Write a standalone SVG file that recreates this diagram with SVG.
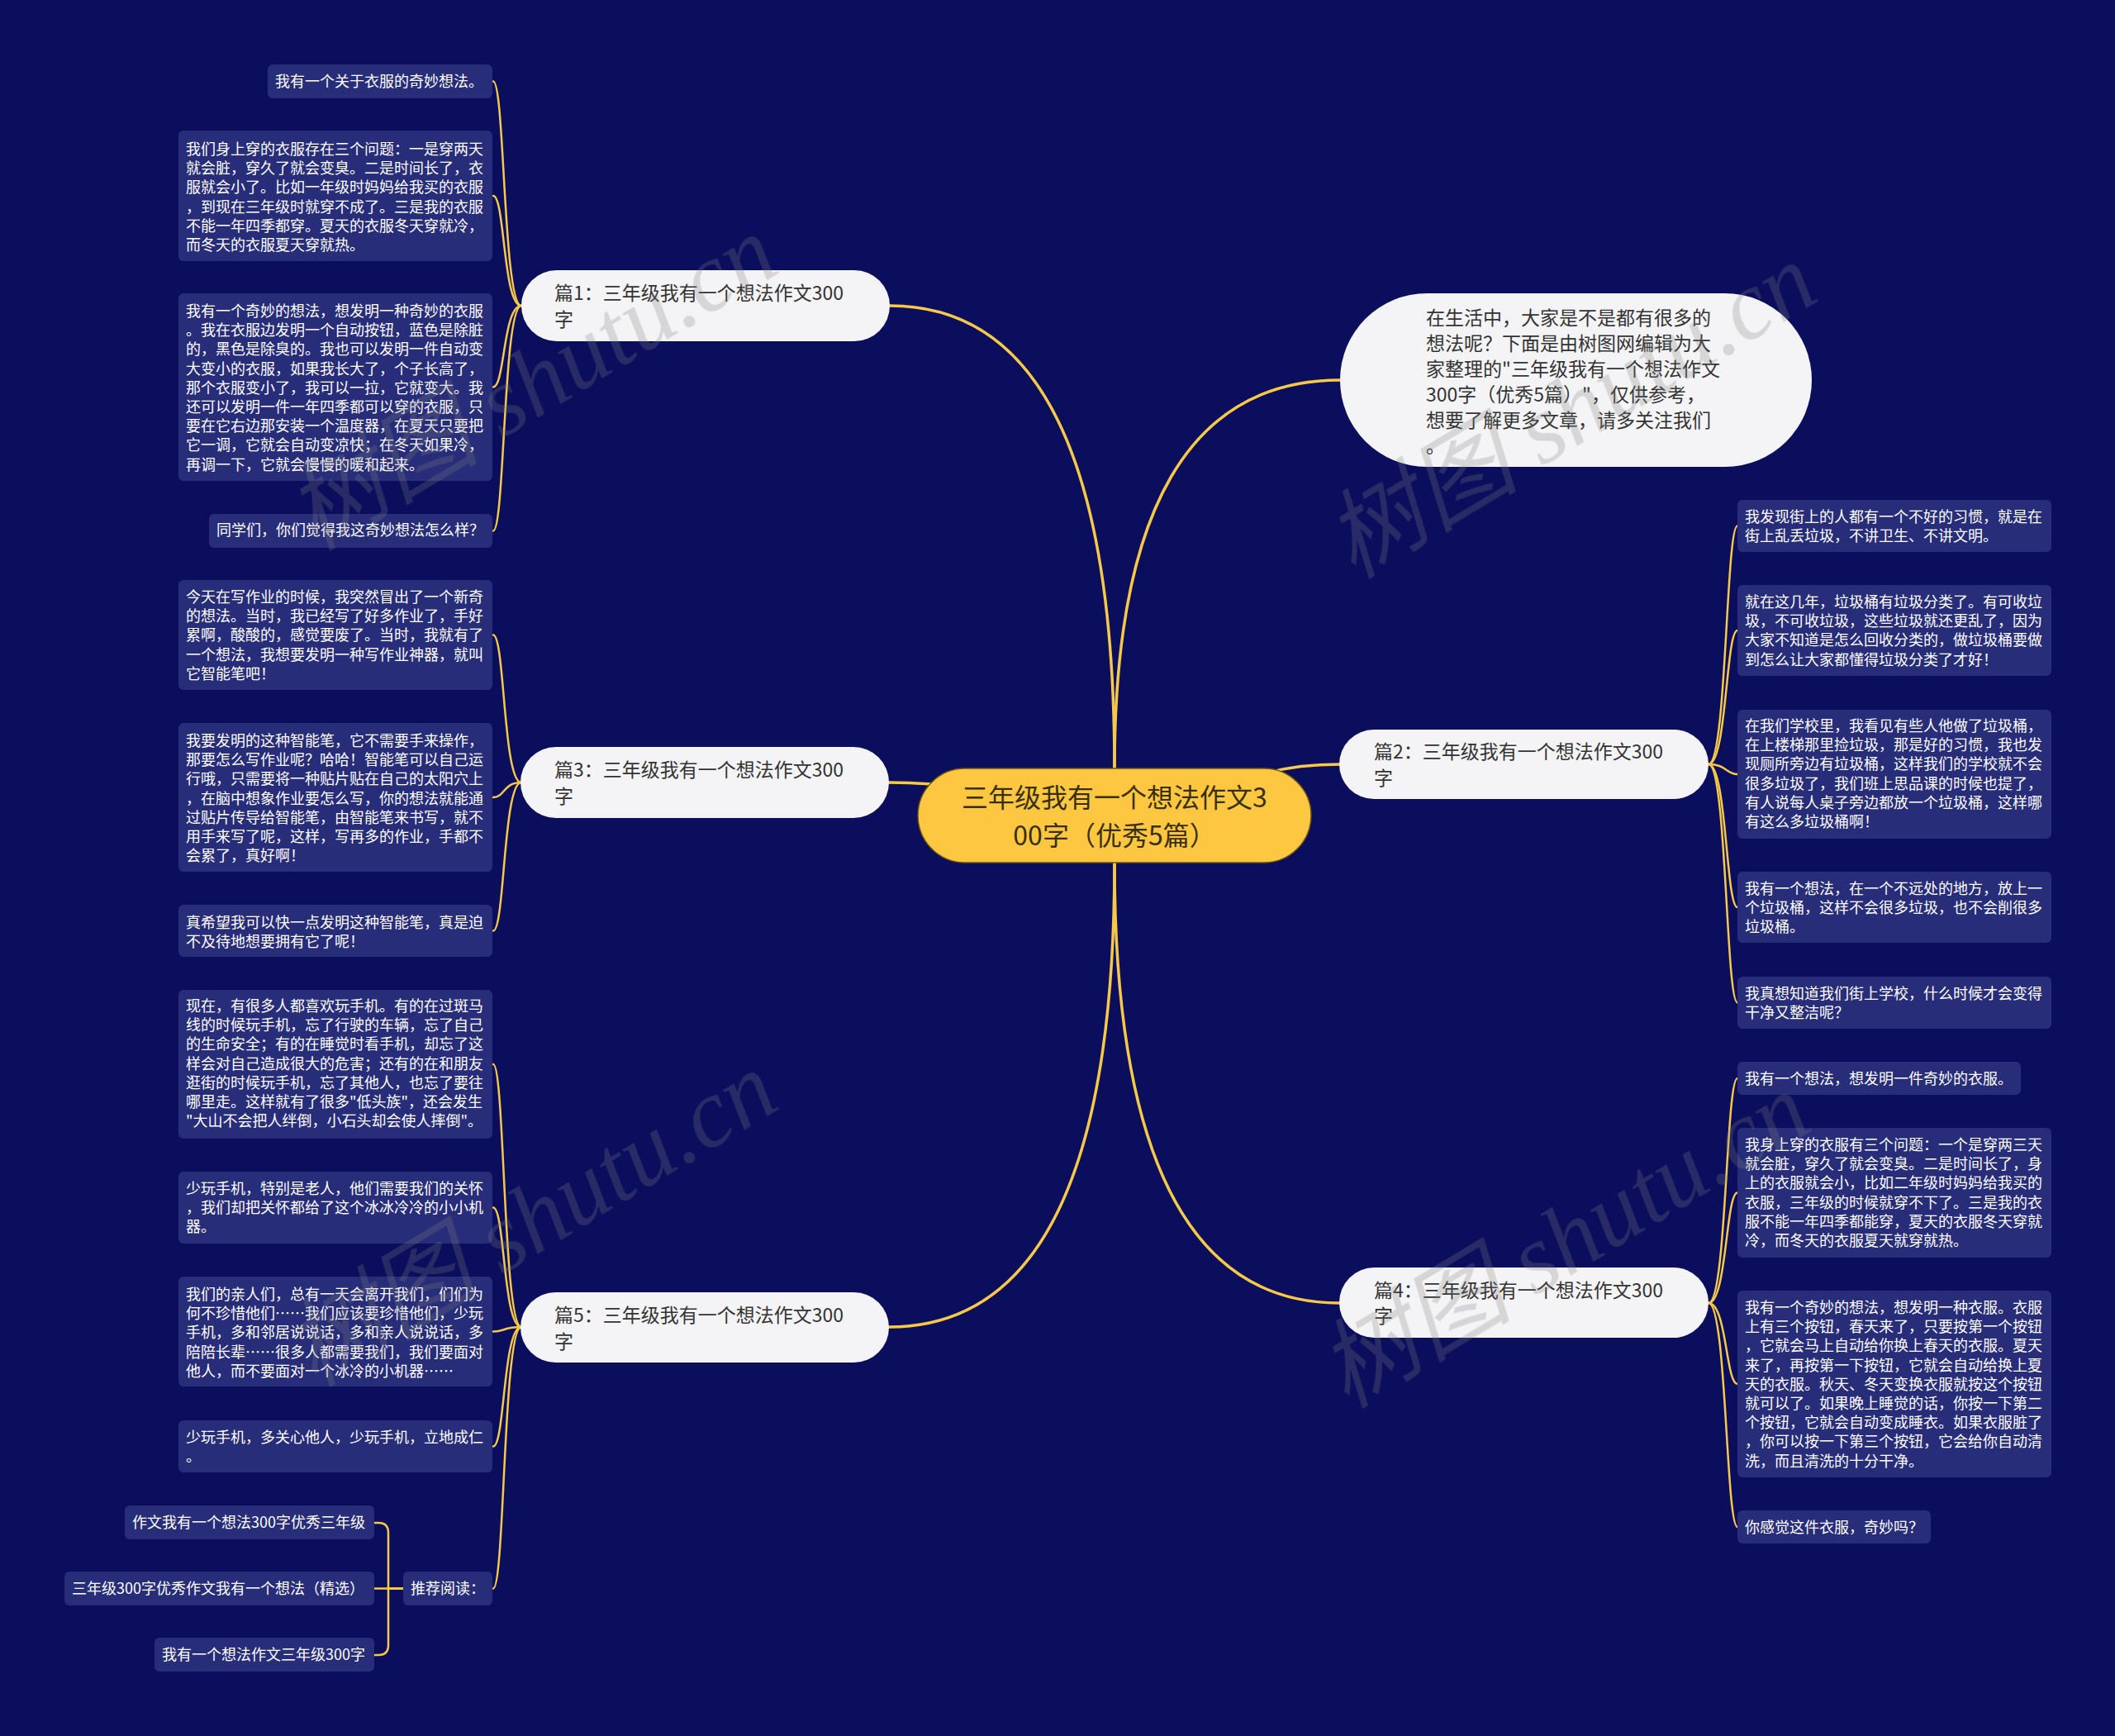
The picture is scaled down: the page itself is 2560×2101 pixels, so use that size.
<svg xmlns="http://www.w3.org/2000/svg" width="2560" height="2101" viewBox="0 0 2560 2101">
<style>
.bg{fill:#0a0e5c}
.leaf{fill:#282d79}
.lt{font-family:"Noto Sans CJK SC","Noto Sans",sans-serif;font-size:18px;fill:#ffffff}
.br{fill:#f4f4f6}
.bt{font-family:"Noto Sans CJK SC","Noto Sans",sans-serif;font-size:23px;fill:#333333}
.ct{font-family:"Noto Sans CJK SC","Noto Sans",sans-serif;font-size:32px;fill:#3a2f0b}
.ln{fill:none;stroke:#f7c948;stroke-width:2.5;stroke-linecap:round}
.mn{fill:none;stroke:#f7c948;stroke-width:3.5;stroke-linecap:round}
.wm{font-family:"Liberation Serif","Noto Sans CJK SC",serif;font-style:italic;font-size:118px;fill:#808080}
</style>
<rect class="bg" x="0" y="0" width="2560" height="2101"/>
<g id="connectors">
<path class="mn" d="M1349,930 Q1349,370 1077,370"/>
<path class="mn" d="M1349,930 Q1349,460 1622,460"/>
<path class="mn" d="M1349,987 C1470,987 1480,925 1621,925"/>
<path class="mn" d="M1349,987 C1230,987 1220,947 1076,947"/>
<path class="mn" d="M1349,1044 Q1349,1577 1621,1577"/>
<path class="mn" d="M1349,1044 Q1349,1606 1076,1606"/>
<path class="ln" d="M631,370 C609,370 611,98.5 597,98.5"/>
<path class="ln" d="M631,370 C609,370 611,237 597,237"/>
<path class="ln" d="M631,370 C609,370 611,468.5 597,468.5"/>
<path class="ln" d="M631,370 C609,370 611,642.5 597,642.5"/>
<path class="ln" d="M631,947 C609,947 611,768.5 597,768.5"/>
<path class="ln" d="M631,947 C609,947 611,965 597,965"/>
<path class="ln" d="M631,947 C609,947 611,1126.5 597,1126.5"/>
<path class="ln" d="M631,1606 C609,1606 611,1288 597,1288"/>
<path class="ln" d="M631,1606 C609,1606 611,1461.5 597,1461.5"/>
<path class="ln" d="M631,1606 C609,1606 611,1611.5 597,1611.5"/>
<path class="ln" d="M631,1606 C609,1606 611,1750.5 597,1750.5"/>
<path class="ln" d="M631,1606 C609,1606 611,1922.5 597,1922.5"/>
<path class="ln" d="M488,1922.5 H470 V1855 Q470,1843 458,1843 H453"/>
<path class="ln" d="M488,1922.5 H453"/>
<path class="ln" d="M488,1922.5 H470 V1991 Q470,2003 458,2003 H453"/>
<path class="ln" d="M2068,925 C2090,925 2089,636.5 2103,636.5"/>
<path class="ln" d="M2068,925 C2090,925 2089,763 2103,763"/>
<path class="ln" d="M2068,925 C2090,925 2089,937 2103,937"/>
<path class="ln" d="M2068,925 C2090,925 2089,1098 2103,1098"/>
<path class="ln" d="M2068,925 C2090,925 2089,1213.5 2103,1213.5"/>
<path class="ln" d="M2068,1577 C2090,1577 2089,1305 2103,1305"/>
<path class="ln" d="M2068,1577 C2090,1577 2089,1443.5 2103,1443.5"/>
<path class="ln" d="M2068,1577 C2090,1577 2089,1675 2103,1675"/>
<path class="ln" d="M2068,1577 C2090,1577 2089,1848 2103,1848"/>
</g>
<g id="center">
<rect x="1111" y="930" width="476" height="114" rx="57" fill="#fdc742" stroke="#6b5413" stroke-width="1.5"/>
<text class="ct" x="1349" y="977" text-anchor="middle">三年级我有一个想法作文3</text>
<text class="ct" x="1349" y="1023" text-anchor="middle">00字（优秀5篇）</text>
</g>
<g id="intro">
<rect class="br" x="1622" y="355" width="571" height="210" rx="105"/>
<text class="bt" x="1726" y="393">在生活中，大家是不是都有很多的<tspan x="1726" dy="31">想法呢？下面是由树图网编辑为大</tspan><tspan x="1726" dy="31">家整理的"三年级我有一个想法作文</tspan><tspan x="1726" dy="31">300字（优秀5篇）"，仅供参考，</tspan><tspan x="1726" dy="31">想要了解更多文章，请多关注我们</tspan><tspan x="1726" dy="31">。</tspan></text>
</g>
<g id="p1">
<rect class="br" x="631" y="327" width="446" height="86" rx="43"/>
<text class="bt" x="671" y="363">篇1：三年级我有一个想法作文300<tspan x="671" dy="32">字</tspan></text>
</g>
<g id="p3">
<rect class="br" x="630" y="904" width="446" height="86" rx="43"/>
<text class="bt" x="671" y="940">篇3：三年级我有一个想法作文300<tspan x="671" dy="32">字</tspan></text>
</g>
<g id="p5">
<rect class="br" x="630" y="1564" width="446" height="85" rx="42.5"/>
<text class="bt" x="671" y="1600">篇5：三年级我有一个想法作文300<tspan x="671" dy="32">字</tspan></text>
</g>
<g id="p2">
<rect class="br" x="1621" y="883" width="447" height="84" rx="42"/>
<text class="bt" x="1663" y="918">篇2：三年级我有一个想法作文300<tspan x="1663" dy="32">字</tspan></text>
</g>
<g id="p4">
<rect class="br" x="1621" y="1534" width="447" height="85" rx="42.5"/>
<text class="bt" x="1663" y="1570">篇4：三年级我有一个想法作文300<tspan x="1663" dy="31">字</tspan></text>
</g>
<g id="l1a"><rect class="leaf" x="324" y="78" width="272" height="41" rx="6"/>
<text class="lt" x="333" y="105">我有一个关于衣服的奇妙想法。</text></g>
<g id="l1b"><rect class="leaf" x="216" y="158" width="380" height="158" rx="6"/>
<text class="lt" x="225" y="187">我们身上穿的衣服存在三个问题：一是穿两天<tspan x="225" dy="23.2">就会脏，穿久了就会变臭。二是时间长了，衣</tspan><tspan x="225" dy="23.2">服就会小了。比如一年级时妈妈给我买的衣服</tspan><tspan x="225" dy="23.2">，到现在三年级时就穿不成了。三是我的衣服</tspan><tspan x="225" dy="23.2">不能一年四季都穿。夏天的衣服冬天穿就冷，</tspan><tspan x="225" dy="23.2">而冬天的衣服夏天穿就热。</tspan></text></g>
<g id="l1c"><rect class="leaf" x="216" y="355" width="380" height="227" rx="6"/>
<text class="lt" x="225" y="383">我有一个奇妙的想法，想发明一种奇妙的衣服<tspan x="225" dy="23.2">。我在衣服边发明一个自动按钮，蓝色是除脏</tspan><tspan x="225" dy="23.2">的，黑色是除臭的。我也可以发明一件自动变</tspan><tspan x="225" dy="23.2">大变小的衣服，如果我长大了，个子长高了，</tspan><tspan x="225" dy="23.2">那个衣服变小了，我可以一拉，它就变大。我</tspan><tspan x="225" dy="23.2">还可以发明一件一年四季都可以穿的衣服，只</tspan><tspan x="225" dy="23.2">要在它右边那安装一个温度器，在夏天只要把</tspan><tspan x="225" dy="23.2">它一调，它就会自动变凉快；在冬天如果冷，</tspan><tspan x="225" dy="23.2">再调一下，它就会慢慢的暖和起来。</tspan></text></g>
<g id="l1d"><rect class="leaf" x="253" y="622" width="343" height="41" rx="6"/>
<text class="lt" x="262" y="648">同学们，你们觉得我这奇妙想法怎么样？</text></g>
<g id="l3a"><rect class="leaf" x="216" y="702" width="380" height="133" rx="6"/>
<text class="lt" x="225" y="729">今天在写作业的时候，我突然冒出了一个新奇<tspan x="225" dy="23.2">的想法。当时，我已经写了好多作业了，手好</tspan><tspan x="225" dy="23.2">累啊，酸酸的，感觉要废了。当时，我就有了</tspan><tspan x="225" dy="23.2">一个想法，我想要发明一种写作业神器，就叫</tspan><tspan x="225" dy="23.2">它智能笔吧！</tspan></text></g>
<g id="l3b"><rect class="leaf" x="216" y="875" width="380" height="180" rx="6"/>
<text class="lt" x="225" y="903">我要发明的这种智能笔，它不需要手来操作，<tspan x="225" dy="23.2">那要怎么写作业呢？哈哈！智能笔可以自己运</tspan><tspan x="225" dy="23.2">行哦，只需要将一种贴片贴在自己的太阳穴上</tspan><tspan x="225" dy="23.2">，在脑中想象作业要怎么写，你的想法就能通</tspan><tspan x="225" dy="23.2">过贴片传导给智能笔，由智能笔来书写，就不</tspan><tspan x="225" dy="23.2">用手来写了呢，这样，写再多的作业，手都不</tspan><tspan x="225" dy="23.2">会累了，真好啊！</tspan></text></g>
<g id="l3c"><rect class="leaf" x="216" y="1095" width="380" height="63" rx="6"/>
<text class="lt" x="225" y="1123">真希望我可以快一点发明这种智能笔，真是迫<tspan x="225" dy="23.2">不及待地想要拥有它了呢！</tspan></text></g>
<g id="l5a"><rect class="leaf" x="216" y="1198" width="380" height="180" rx="6"/>
<text class="lt" x="225" y="1224">现在，有很多人都喜欢玩手机。有的在过斑马<tspan x="225" dy="23.2">线的时候玩手机，忘了行驶的车辆，忘了自己</tspan><tspan x="225" dy="23.2">的生命安全；有的在睡觉时看手机，却忘了这</tspan><tspan x="225" dy="23.2">样会对自己造成很大的危害；还有的在和朋友</tspan><tspan x="225" dy="23.2">逛街的时候玩手机，忘了其他人，也忘了要往</tspan><tspan x="225" dy="23.2">哪里走。这样就有了很多"低头族"，还会发生</tspan><tspan x="225" dy="23.2">"大山不会把人绊倒，小石头却会使人摔倒"。</tspan></text></g>
<g id="l5b"><rect class="leaf" x="216" y="1418" width="380" height="87" rx="6"/>
<text class="lt" x="225" y="1445">少玩手机，特别是老人，他们需要我们的关怀<tspan x="225" dy="23.2">，我们却把关怀都给了这个冰冰冷冷的小小机</tspan><tspan x="225" dy="23.2">器。</tspan></text></g>
<g id="l5c"><rect class="leaf" x="216" y="1545" width="380" height="133" rx="6"/>
<text class="lt" x="225" y="1573">我们的亲人们，总有一天会离开我们，们们为<tspan x="225" dy="23.2">何不珍惜他们……我们应该要珍惜他们，少玩</tspan><tspan x="225" dy="23.2">手机，多和邻居说说话，多和亲人说说话，多</tspan><tspan x="225" dy="23.2">陪陪长辈……很多人都需要我们，我们要面对</tspan><tspan x="225" dy="23.2">他人，而不要面对一个冰冷的小机器……</tspan></text></g>
<g id="l5d"><rect class="leaf" x="216" y="1719" width="380" height="63" rx="6"/>
<text class="lt" x="225" y="1746">少玩手机，多关心他人，少玩手机，立地成仁<tspan x="225" dy="23.2">。</tspan></text></g>
<g id="l5e"><rect class="leaf" x="488" y="1902" width="108" height="41" rx="6"/>
<text class="lt" x="497" y="1929">推荐阅读：</text></g>
<g id="r1"><rect class="leaf" x="151" y="1822" width="302" height="41" rx="6"/>
<text class="lt" x="160" y="1849">作文我有一个想法300字优秀三年级</text></g>
<g id="r2"><rect class="leaf" x="78" y="1902" width="375" height="41" rx="6"/>
<text class="lt" x="87" y="1929">三年级300字优秀作文我有一个想法（精选）</text></g>
<g id="r3"><rect class="leaf" x="187" y="1982" width="266" height="41" rx="6"/>
<text class="lt" x="196" y="2009">我有一个想法作文三年级300字</text></g>
<g id="r2a"><rect class="leaf" x="2103" y="605" width="380" height="63" rx="6"/>
<text class="lt" x="2112" y="632">我发现街上的人都有一个不好的习惯，就是在<tspan x="2112" dy="23.2">街上乱丢垃圾，不讲卫生、不讲文明。</tspan></text></g>
<g id="r2b"><rect class="leaf" x="2103" y="708" width="380" height="110" rx="6"/>
<text class="lt" x="2112" y="735">就在这几年，垃圾桶有垃圾分类了。有可收垃<tspan x="2112" dy="23.2">圾，不可收垃圾，这些垃圾就还更乱了，因为</tspan><tspan x="2112" dy="23.2">大家不知道是怎么回收分类的，做垃圾桶要做</tspan><tspan x="2112" dy="23.2">到怎么让大家都懂得垃圾分类了才好！</tspan></text></g>
<g id="r2c"><rect class="leaf" x="2103" y="859" width="380" height="156" rx="6"/>
<text class="lt" x="2112" y="885">在我们学校里，我看见有些人他做了垃圾桶，<tspan x="2112" dy="23.2">在上楼梯那里捡垃圾，那是好的习惯，我也发</tspan><tspan x="2112" dy="23.2">现厕所旁边有垃圾桶，这样我们的学校就不会</tspan><tspan x="2112" dy="23.2">很多垃圾了，我们班上思品课的时候也提了，</tspan><tspan x="2112" dy="23.2">有人说每人桌子旁边都放一个垃圾桶，这样哪</tspan><tspan x="2112" dy="23.2">有这么多垃圾桶啊！</tspan></text></g>
<g id="r2d"><rect class="leaf" x="2103" y="1055" width="380" height="86" rx="6"/>
<text class="lt" x="2112" y="1082">我有一个想法，在一个不远处的地方，放上一<tspan x="2112" dy="23.2">个垃圾桶，这样不会很多垃圾，也不会削很多</tspan><tspan x="2112" dy="23.2">垃圾桶。</tspan></text></g>
<g id="r2e"><rect class="leaf" x="2103" y="1182" width="380" height="63" rx="6"/>
<text class="lt" x="2112" y="1209">我真想知道我们街上学校，什么时候才会变得<tspan x="2112" dy="23.2">干净又整洁呢？</tspan></text></g>
<g id="r4a"><rect class="leaf" x="2103" y="1285" width="343" height="40" rx="6"/>
<text class="lt" x="2112" y="1312">我有一个想法，想发明一件奇妙的衣服。</text></g>
<g id="r4b"><rect class="leaf" x="2103" y="1365" width="380" height="157" rx="6"/>
<text class="lt" x="2112" y="1392">我身上穿的衣服有三个问题：一个是穿两三天<tspan x="2112" dy="23.2">就会脏，穿久了就会变臭。二是时间长了，身</tspan><tspan x="2112" dy="23.2">上的衣服就会小，比如二年级时妈妈给我买的</tspan><tspan x="2112" dy="23.2">衣服，三年级的时候就穿不下了。三是我的衣</tspan><tspan x="2112" dy="23.2">服不能一年四季都能穿，夏天的衣服冬天穿就</tspan><tspan x="2112" dy="23.2">冷，而冬天的衣服夏天就穿就热。</tspan></text></g>
<g id="r4c"><rect class="leaf" x="2103" y="1562" width="380" height="226" rx="6"/>
<text class="lt" x="2112" y="1589">我有一个奇妙的想法，想发明一种衣服。衣服<tspan x="2112" dy="23.2">上有三个按钮，春天来了，只要按第一个按钮</tspan><tspan x="2112" dy="23.2">，它就会马上自动给你换上春天的衣服。夏天</tspan><tspan x="2112" dy="23.2">来了，再按第一下按钮，它就会自动给换上夏</tspan><tspan x="2112" dy="23.2">天的衣服。秋天、冬天变换衣服就按这个按钮</tspan><tspan x="2112" dy="23.2">就可以了。如果晚上睡觉的话，你按一下第二</tspan><tspan x="2112" dy="23.2">个按钮，它就会自动变成睡衣。如果衣服脏了</tspan><tspan x="2112" dy="23.2">，你可以按一下第三个按钮，它会给你自动清</tspan><tspan x="2112" dy="23.2">洗，而且清洗的十分干净。</tspan></text></g>
<g id="r4d"><rect class="leaf" x="2103" y="1828" width="234" height="40" rx="6"/>
<text class="lt" x="2112" y="1855">你感觉这件衣服，奇妙吗？</text></g>
<g id="watermark" opacity="0.26">
<text class="wm" x="380" y="668" transform="rotate(-31 380 668)">树图 shutu.cn</text>
<text class="wm" x="1638" y="702" transform="rotate(-31 1638 702)">树图 shutu.cn</text>
<text class="wm" x="380" y="1680" transform="rotate(-31 380 1680)">树图 shutu.cn</text>
<text class="wm" x="1630" y="1706" transform="rotate(-31 1630 1706)">树图 shutu.cn</text>
</g>
</svg>
